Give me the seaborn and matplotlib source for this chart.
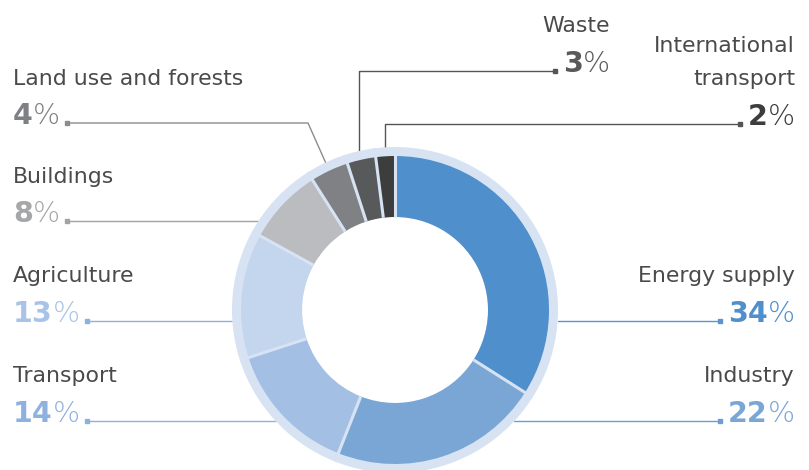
import numpy as np
import matplotlib
matplotlib.use('Agg')
import matplotlib.pyplot as plt
from matplotlib.patches import Wedge
import seaborn as sns

# data, slices go clockwise from 12 o'clock
sectors = ['Energy supply', 'Industry', 'Transport', 'Agriculture', 'Buildings',
           'Land use and forests', 'Waste', 'International\ntransport']
shares = [34, 22, 14, 13, 8, 4, 3, 2]
slice_colors = ['#4f8fcc', '#7aa6d6', '#a3bfe3', '#c4d5ee', '#bbbcbf',
                '#808185', '#58595b', '#3d3d3d']
pct_colors = ['#4f8fcc', '#7aa6d6', '#8fb1df', '#a9c3e8', '#a6a7a9',
              '#7f8083', '#58595b', '#3d3d3d']
line_colors = ['#5b94d1', '#6c9fd8', '#8fb1df', '#8fb1df', '#a3a3a3',
               '#8c8c8c', '#555555', '#555555']

# label layout in pixels from the top: (align, x, name baseline, pct baseline, leader)
layout = [
    ('right', 795, 282, 322, 'side'),
    ('right', 795, 382, 422, 'side'),
    ('left', 13, 382, 422, 'side'),
    ('left', 13, 282, 322, 'side'),
    ('left', 13, 183, 222, 'side'),
    ('left', 13, 85, 124, 'elbow'),
    ('right', 610, 32, 72, 'top'),
    ('right', 795, 85, 125, 'top'),
]

W, H = 809, 470
cx, cy = 395, H - 310
r_out, r_in, r_ring = 154, 93, 163
ring_color = '#d7e3f3'
name_color = '#4a4a4a'

sns.set_theme(style='white')
plt.rcParams['font.family'] = ['DejaVu Sans']

fig = plt.figure(figsize=(W / 100, H / 100), dpi=100)
ax = fig.add_axes([0, 0, 1, 1])

# light ring behind the slices
ax.add_patch(Wedge((cx, cy), r_ring, 0, 360, width=r_ring - r_in,
                   facecolor=ring_color, edgecolor='none', zorder=1))
wedges, _ = ax.pie(shares, colors=slice_colors, startangle=90, counterclock=False,
                   radius=r_out, center=(cx, cy),
                   wedgeprops=dict(width=r_out - r_in, linewidth=0, zorder=2))
for w in wedges:
    w.set_zorder(2)
    a = np.deg2rad(w.theta1)
    ax.plot([cx + r_in * np.cos(a), cx + r_ring * np.cos(a)],
            [cy + r_in * np.sin(a), cy + r_ring * np.sin(a)],
            color=ring_color, lw=2.2, zorder=3, solid_capstyle='butt')

ax.set_xlim(0, W)
ax.set_ylim(0, H)
ax.set_aspect('equal')
ax.axis('off')

fig.canvas.draw()
renderer = fig.canvas.get_renderer()
inv = ax.transData.inverted()


def extent(t):
    bb = t.get_window_extent(renderer)
    (x0, y0), (x1, y1) = inv.transform([[bb.x0, bb.y0], [bb.x1, bb.y1]])
    return x0, x1


for name, val, w, pc, lc, (ha, x, nb, pb, kind) in zip(
        sectors, shares, wedges, pct_colors, line_colors, layout):
    lines = name.split('\n')
    for i, ln in enumerate(lines):
        ax.text(x, H - nb + (len(lines) - 1 - i) * 33, ln, ha=ha, va='baseline',
                fontsize=15.8, color=name_color)
    py = H - pb
    if ha == 'left':
        tn = ax.text(x, py, str(val), ha='left', va='baseline', fontsize=20.5,
                     fontweight='bold', color=pc)
        nx1 = extent(tn)[1]
        tp = ax.text(nx1, py, '%', ha='left', va='baseline', fontsize=20.5,
                     fontweight='light', color=pc)
        dot_x = extent(tp)[1] + 7
    else:
        tp = ax.text(x, py, '%', ha='right', va='baseline', fontsize=20.5,
                     fontweight='light', color=pc)
        px0 = extent(tp)[0]
        tn = ax.text(px0, py, str(val), ha='right', va='baseline', fontsize=20.5,
                     fontweight='bold', color=pc)
        dot_x = extent(tn)[0] - 8
    dot_y = py + 1

    mid = np.deg2rad((w.theta1 + w.theta2) / 2)
    if kind == 'side':
        dy = dot_y - cy
        edge_x = cx + np.sign(dot_x - cx) * np.sqrt(r_ring ** 2 - dy ** 2)
        xs, ys = [dot_x, edge_x], [dot_y, dot_y]
    elif kind == 'elbow':
        ex, ey = cx + r_ring * np.cos(mid), cy + r_ring * np.sin(mid)
        xs, ys = [dot_x, 308, ex], [dot_y, dot_y, ey]
    else:
        ex = cx + r_ring * np.cos(mid)
        ey = cy + np.sqrt(r_ring ** 2 - (ex - cx) ** 2)
        xs, ys = [dot_x, ex, ex], [dot_y, dot_y, ey - 4]
    ax.plot(xs, ys, color=lc, lw=1.0, zorder=0)
    ax.plot([dot_x], [dot_y], marker='s', markersize=3, color=lc, zorder=4)

fig.savefig('out.png', dpi=100)
